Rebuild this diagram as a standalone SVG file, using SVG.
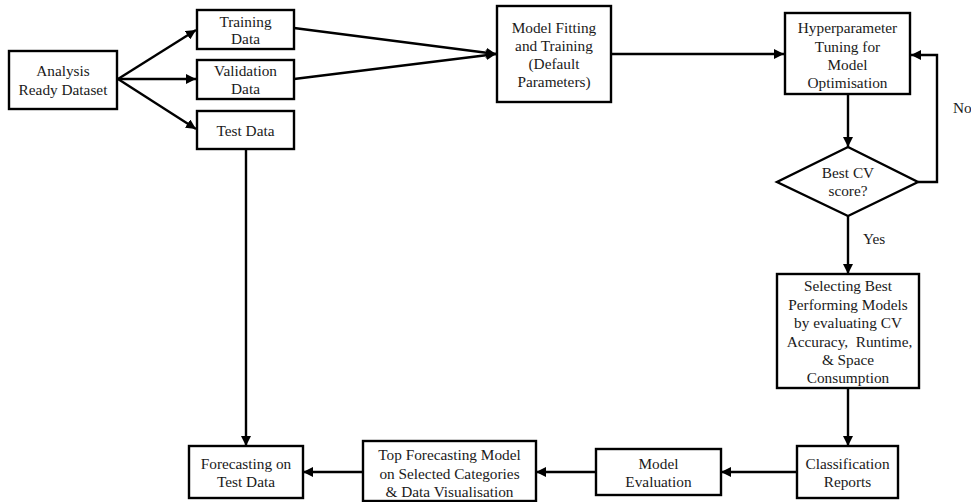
<svg xmlns="http://www.w3.org/2000/svg" width="971" height="502" viewBox="0 0 971 502">
<style>
.box{fill:#fff;stroke:#000;stroke-width:2.4}
.t{font-family:"Liberation Serif","Times New Roman",serif;font-size:15.3px;fill:#1a1a1a;text-anchor:middle;white-space:pre}
.c{fill:none;stroke:#000;stroke-width:2.4}
</style>
<defs>
<marker id="ah" viewBox="0 0 10 10" refX="10" refY="5" markerWidth="10" markerHeight="10" markerUnits="userSpaceOnUse" orient="auto">
<path d="M0,0 L10,5 L0,10 z" fill="#000"/>
</marker>
</defs>
<rect width="971" height="502" fill="#fff"/>
<g id="connectors">
<line class="c" x1="118" y1="79" x2="196" y2="30" marker-end="url(#ah)"/>
<line class="c" x1="118" y1="79" x2="196" y2="79" marker-end="url(#ah)"/>
<line class="c" x1="118" y1="79" x2="196" y2="129" marker-end="url(#ah)"/>
<line class="c" x1="294" y1="28" x2="496" y2="54" marker-end="url(#ah)"/>
<line class="c" x1="294" y1="79" x2="496" y2="54" marker-end="url(#ah)"/>
<line class="c" x1="611" y1="54" x2="784" y2="54" marker-end="url(#ah)"/>
<line class="c" x1="848" y1="94" x2="848" y2="147" marker-end="url(#ah)"/>
<polyline class="c" points="918,182 937,182 937,55 911,55" marker-end="url(#ah)"/>
<line class="c" x1="848" y1="216" x2="848" y2="274" marker-end="url(#ah)"/>
<line class="c" x1="848" y1="388" x2="848" y2="446" marker-end="url(#ah)"/>
<line class="c" x1="797" y1="472" x2="721" y2="472" marker-end="url(#ah)"/>
<line class="c" x1="596" y1="472" x2="536" y2="472" marker-end="url(#ah)"/>
<line class="c" x1="363" y1="472" x2="303" y2="472" marker-end="url(#ah)"/>
<line class="c" x1="246" y1="149" x2="246" y2="446" marker-end="url(#ah)"/>
<text class="t" x="953" y="113" style="text-anchor:start">No</text>
<text class="t" x="863" y="244" style="text-anchor:start">Yes</text>
</g>
<g id="analysis">
<rect class="box" x="9" y="51" width="108" height="58"/>
<text class="t" x="63" y="76">Analysis</text>
<text class="t" x="63" y="95">Ready Dataset</text>
</g>
<g id="training">
<rect class="box" x="197" y="10" width="97" height="39"/>
<text class="t" x="245.5" y="26.5">Training</text>
<text class="t" x="245.5" y="44">Data</text>
</g>
<g id="validation">
<rect class="box" x="197" y="60" width="97" height="39"/>
<text class="t" x="245.5" y="76">Validation</text>
<text class="t" x="245.5" y="94">Data</text>
</g>
<g id="test">
<rect class="box" x="197" y="111" width="97" height="38"/>
<text class="t" x="245.5" y="136">Test Data</text>
</g>
<g id="fitting">
<rect class="box" x="497" y="6" width="114" height="96"/>
<text class="t" x="554" y="33">Model Fitting</text>
<text class="t" x="554" y="51">and Training</text>
<text class="t" x="554" y="69">(Default</text>
<text class="t" x="554" y="87">Parameters)</text>
</g>
<g id="hyper">
<rect class="box" x="785" y="13" width="125" height="81"/>
<text class="t" x="847.5" y="33">Hyperparameter</text>
<text class="t" x="847.5" y="51.5">Tuning for</text>
<text class="t" x="847.5" y="70">Model</text>
<text class="t" x="847.5" y="88">Optimisation</text>
</g>
<g id="decision">
<polygon class="box" points="848,147 918,182 848,216 777,182"/>
<text class="t" x="848" y="177.5">Best CV</text>
<text class="t" x="848" y="195.5">score?</text>
</g>
<g id="selecting">
<rect class="box" x="777" y="274" width="142" height="114"/>
<text class="t" x="848" y="291">Selecting Best</text>
<text class="t" x="848" y="309.5">Performing Models</text>
<text class="t" x="848" y="328">by evaluating CV</text>
<text class="t" x="848" y="346.5"> Accuracy,  Runtime,</text>
<text class="t" x="848" y="365">&amp; Space</text>
<text class="t" x="848" y="383">Consumption</text>
</g>
<g id="classification">
<rect class="box" x="797" y="446" width="101" height="52"/>
<text class="t" x="847.5" y="469">Classification</text>
<text class="t" x="847.5" y="487">Reports</text>
</g>
<g id="evaluation">
<rect class="box" x="596" y="449" width="125" height="46"/>
<text class="t" x="658.5" y="469">Model</text>
<text class="t" x="658.5" y="487">Evaluation</text>
</g>
<g id="topmodel">
<rect class="box" x="363" y="441" width="173" height="60"/>
<text class="t" x="449.5" y="460">Top Forecasting Model</text>
<text class="t" x="449.5" y="478.5">on Selected Categories</text>
<text class="t" x="449.5" y="497">&amp; Data Visualisation</text>
</g>
<g id="forecasting">
<rect class="box" x="189" y="446" width="114" height="52"/>
<text class="t" x="246" y="469">Forecasting on</text>
<text class="t" x="246" y="487">Test Data</text>
</g>
</svg>
